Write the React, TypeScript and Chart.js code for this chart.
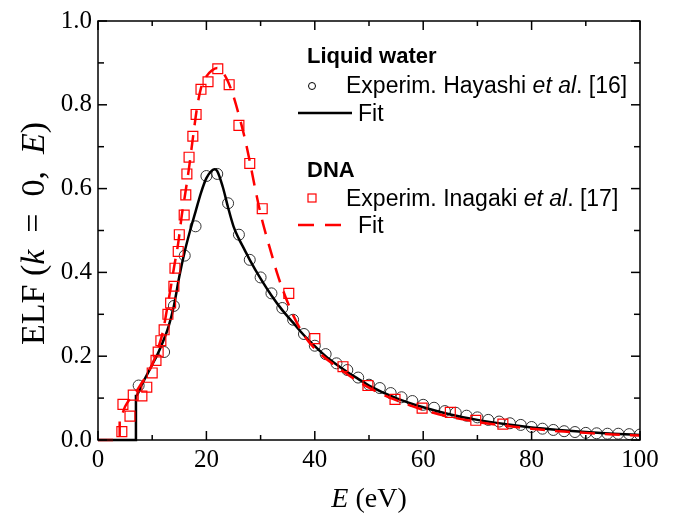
import React, { useEffect, useRef } from "react";
import { Chart, registerables } from "chart.js";

Chart.register(...registerables);

// ---- tick values ----
const xMajorTicks = [0, 20, 40, 60, 80, 100];
const xMinorTicks = [10, 30, 50, 70, 90];
const yMajorTicks = [0, 0.2, 0.4, 0.6, 0.8, 1.0];
const yMinorTicks = [0.1, 0.3, 0.5, 0.7, 0.9];

// ---- Liquid water: experiment (Hayashi et al.) ----
const waterExpE = [7.5, 12.2, 14, 16, 18, 20, 22, 24, 26, 28, 30, 32, 34, 36, 38, 40, 42, 44, 46, 48, 50, 52, 54, 56, 58, 60, 62, 64, 66, 68, 70, 72, 74, 76, 78, 80, 82, 84, 86, 88, 90, 92, 94, 96, 98, 100];
const waterExpELF = [0.13, 0.21, 0.32, 0.44, 0.51, 0.63, 0.635, 0.565, 0.49, 0.43, 0.388, 0.35, 0.315, 0.287, 0.253, 0.225, 0.205, 0.183, 0.167, 0.149, 0.132, 0.124, 0.112, 0.102, 0.093, 0.084, 0.077, 0.069, 0.065, 0.058, 0.054, 0.048, 0.044, 0.04, 0.036, 0.031, 0.027, 0.024, 0.021, 0.019, 0.017, 0.016, 0.015, 0.015, 0.014, 0.013];

// ---- Liquid water: fit ----
const waterFitE = [0, 7, 7, 8, 9, 10, 11, 12, 13, 14, 15, 16, 17, 18, 19, 20, 21, 21.5, 22, 23, 24, 25, 26, 27, 28, 30, 32, 34, 36, 38, 40, 42, 44, 46, 48, 50, 55, 60, 65, 70, 75, 80, 85, 90, 95, 100];
const waterFitELF = [0, 0, 0.105, 0.13, 0.155, 0.18, 0.205, 0.235, 0.27, 0.32, 0.39, 0.45, 0.5, 0.545, 0.59, 0.625, 0.643, 0.646, 0.642, 0.605, 0.555, 0.51, 0.48, 0.455, 0.43, 0.385, 0.345, 0.31, 0.28, 0.25, 0.224, 0.2, 0.18, 0.162, 0.146, 0.13, 0.1, 0.078, 0.061, 0.048, 0.038, 0.03, 0.024, 0.019, 0.015, 0.012];

// ---- DNA: experiment (Inagaki et al.) ----
const dnaExpE = [4.4, 4.6, 5.9, 6.5, 8.1, 9, 10, 10.7, 11.1, 11.6, 12.2, 12.9, 13.4, 14, 14.2, 14.8, 15.0, 15.9, 16.2, 16.4, 16.8, 17.5, 18.1, 19, 20.3, 22.1, 24.2, 26, 28, 30.3, 35.2, 40, 45.2, 49.8, 54.8, 59.8, 65, 69.7, 74.7];
const dnaExpELF = [0.02, 0.085, 0.057, 0.107, 0.105, 0.126, 0.16, 0.19, 0.21, 0.237, 0.263, 0.3, 0.327, 0.367, 0.41, 0.45, 0.49, 0.537, 0.585, 0.635, 0.675, 0.725, 0.777, 0.837, 0.855, 0.886, 0.848, 0.751, 0.66, 0.552, 0.35, 0.242, 0.175, 0.13, 0.097, 0.076, 0.066, 0.047, 0.038];

// ---- DNA: fit ----
const dnaFitE = [0, 4, 4, 5, 6, 7, 8, 9, 10, 11, 12, 12.7, 13.5, 14, 14.8, 15.5, 16, 16.8, 17.5, 18.3, 19, 20, 21, 22, 23, 24, 25, 26, 27, 28, 29, 30, 31, 32, 33, 34, 35, 36, 38, 40, 45, 50, 55, 60, 65, 70, 75, 80, 85, 90, 95, 100];
const dnaFitELF = [0, 0, 0.05, 0.08, 0.1, 0.115, 0.135, 0.155, 0.18, 0.215, 0.26, 0.31, 0.37, 0.41, 0.47, 0.54, 0.58, 0.65, 0.72, 0.795, 0.84, 0.868, 0.882, 0.888, 0.878, 0.855, 0.82, 0.775, 0.725, 0.665, 0.6, 0.54, 0.49, 0.445, 0.4, 0.362, 0.328, 0.298, 0.25, 0.218, 0.166, 0.125, 0.095, 0.072, 0.055, 0.043, 0.034, 0.027, 0.021, 0.017, 0.013, 0.011];

const zip = (xs: number[], ys: number[]) => xs.map((x, i) => ({ x, y: ys[i] }));

const SERIF = '"Liberation Serif", "Times New Roman", serif';
const SANS = '"Liberation Sans", Arial, sans-serif';
const RED = "#ff0000";

type Seg = [string, boolean];

function drawSegs(ctx: CanvasRenderingContext2D, segs: Seg[], size: number, family: string, cx: number, y: number) {
  let total = 0;
  const widths = segs.map(([t, it]) => {
    ctx.font = `${it ? "italic " : ""}${size}px ${family}`;
    const w = ctx.measureText(t).width;
    total += w;
    return w;
  });
  let x = cx - total / 2;
  segs.forEach(([t, it], i) => {
    ctx.font = `${it ? "italic " : ""}${size}px ${family}`;
    ctx.fillText(t, x, y);
    x += widths[i];
  });
}

function drawLeft(ctx: CanvasRenderingContext2D, segs: [string, string][], x: number, y: number) {
  segs.forEach(([t, font]) => {
    ctx.font = font;
    ctx.fillText(t, x, y);
    x += ctx.measureText(t).width;
  });
}

const decor = {
  id: "decor",
  afterDatasetsDraw(chart: any) {
    const { ctx, chartArea: a, scales } = chart;
    const xs = scales.x;
    const ys = scales.y;
    ctx.save();
    ctx.strokeStyle = "#000";
    ctx.lineWidth = 1.5;
    ctx.strokeRect(a.left, a.top, a.right - a.left, a.bottom - a.top);
    const seg = (x1: number, y1: number, x2: number, y2: number) => {
      ctx.beginPath();
      ctx.moveTo(x1, y1);
      ctx.lineTo(x2, y2);
      ctx.stroke();
    };
    const xt = (vals: number[], len: number) =>
      vals.forEach((v) => {
        const p = xs.getPixelForValue(v);
        seg(p, a.bottom, p, a.bottom - len);
        seg(p, a.top, p, a.top + len);
      });
    const yt = (vals: number[], len: number) =>
      vals.forEach((v) => {
        const p = ys.getPixelForValue(v);
        seg(a.left, p, a.left + len, p);
        seg(a.right, p, a.right - len, p);
      });
    xt(xMajorTicks, 9);
    xt(xMinorTicks, 5);
    yt(yMajorTicks, 9);
    yt(yMinorTicks, 6);
    ctx.restore();
  },
  afterDraw(chart: any) {
    const { ctx, chartArea: a } = chart;
    ctx.save();
    ctx.fillStyle = "#000";
    ctx.textBaseline = "alphabetic";
    ctx.textAlign = "left";

    // x title
    drawSegs(ctx, [["E", true], [" (eV)", false]], 28, SERIF, (a.left + a.right) / 2, 507);

    // y title (rotated)
    ctx.save();
    ctx.translate(44, (a.top + a.bottom) / 2 + 3);
    ctx.rotate(-Math.PI / 2);
    drawSegs(
      ctx,
      [["ELF (", false], ["k", true], ["\u2002=\u20020,\u2002", false], ["E", true], [")", false]],
      34,
      SERIF,
      0,
      0
    );
    ctx.restore();

    // legend
    const reg = `23px ${SANS}`;
    const ital = `italic 23px ${SANS}`;
    ctx.font = `bold 22px ${SANS}`;
    ctx.fillText("Liquid water", 307, 63);
    ctx.strokeStyle = "#000";
    ctx.lineWidth = 1;
    ctx.beginPath();
    ctx.arc(312, 86, 3.5, 0, Math.PI * 2);
    ctx.stroke();
    drawLeft(ctx, [["Experim. Hayashi ", reg], ["et al", ital], [". [16]", reg]], 346, 93);
    ctx.lineWidth = 2.5;
    ctx.beginPath();
    ctx.moveTo(298, 113);
    ctx.lineTo(352, 113);
    ctx.stroke();
    ctx.font = reg;
    ctx.fillText("Fit", 358, 121);

    ctx.font = `bold 22px ${SANS}`;
    ctx.fillText("DNA", 307, 177);
    ctx.strokeStyle = RED;
    ctx.lineWidth = 1.2;
    ctx.strokeRect(308, 194, 8, 8);
    drawLeft(ctx, [["Experim. Inagaki ", reg], ["et al", ital], [". [17]", reg]], 346, 206);
    ctx.lineWidth = 2.5;
    ctx.setLineDash([16, 11]);
    ctx.beginPath();
    ctx.moveTo(298, 225);
    ctx.lineTo(343, 225);
    ctx.stroke();
    ctx.setLineDash([]);
    ctx.font = reg;
    ctx.fillText("Fit", 358, 233);
    ctx.restore();
  },
};

export default function App() {
  const ref = useRef<HTMLCanvasElement | null>(null);

  useEffect(() => {
    if (!ref.current) return;
    const chart = new Chart(ref.current, {
      type: "scatter",
      data: {
        datasets: [
          {
            label: "Experim. Hayashi et al. [16]",
            data: zip(waterExpE, waterExpELF),
            showLine: false,
            pointStyle: "circle",
            pointRadius: 5.5,
            pointBorderWidth: 1,
            pointBorderColor: "#333",
            pointBackgroundColor: "rgba(0,0,0,0)",
            clip: 0,
            order: 3,
          } as any,
          {
            label: "Fit (water)",
            data: zip(waterFitE, waterFitELF),
            showLine: true,
            pointRadius: 0,
            borderColor: "#000",
            borderWidth: 2.5,
            cubicInterpolationMode: "monotone",
            clip: { left: 0, top: 0, right: 0, bottom: 3 },
            order: 2,
          } as any,
          {
            label: "Experim. Inagaki et al. [17]",
            data: zip(dnaExpE, dnaExpELF),
            showLine: false,
            pointStyle: "rect",
            pointRadius: 7,
            pointBorderWidth: 1.2,
            pointBorderColor: RED,
            pointBackgroundColor: "rgba(0,0,0,0)",
            clip: 0,
            order: 1,
          } as any,
          {
            label: "Fit (DNA)",
            data: zip(dnaFitE, dnaFitELF),
            showLine: true,
            pointRadius: 0,
            borderColor: RED,
            borderWidth: 2.5,
            borderDash: [15, 10],
            cubicInterpolationMode: "monotone",
            clip: { left: 0, top: 0, right: 0, bottom: 3 },
            order: 0,
          } as any,
        ],
      },
      options: {
        animation: false,
        responsive: false,
        maintainAspectRatio: false,
        layout: { padding: { top: 18, right: 33, left: 0, bottom: 0 } },
        plugins: {
          legend: { display: false },
          tooltip: { enabled: false },
        },
        scales: {
          x: {
            type: "linear",
            min: 0,
            max: 100,
            afterFit: (s: any) => {
              s.height = 79;
            },
            afterBuildTicks: (s: any) => {
              s.ticks = xMajorTicks.map((v) => ({ value: v }));
            },
            ticks: {
              font: { family: SERIF, size: 25 },
              color: "#000",
              padding: 5,
              maxRotation: 0,
              autoSkip: false,
            },
            grid: { display: false, drawTicks: false },
            border: { display: false },
          },
          y: {
            type: "linear",
            min: 0,
            max: 1,
            afterFit: (s: any) => {
              s.width = 98;
            },
            afterBuildTicks: (s: any) => {
              s.ticks = yMajorTicks.map((v) => ({ value: v }));
            },
            ticks: {
              font: { family: SERIF, size: 25 },
              color: "#000",
              padding: 6,
              autoSkip: false,
              callback: (v: any) => Number(v).toFixed(1),
            },
            grid: { display: false, drawTicks: false },
            border: { display: false },
          },
        },
      } as any,
      plugins: [decor],
    });
    return () => chart.destroy();
  }, []);

  return (
    <div style={{ position: "fixed", left: 0, top: 0, width: 673, height: 519, background: "#fff" }}>
      <canvas ref={ref} width={673} height={519} style={{ display: "block", width: 673, height: 519 }} />
    </div>
  );
}
